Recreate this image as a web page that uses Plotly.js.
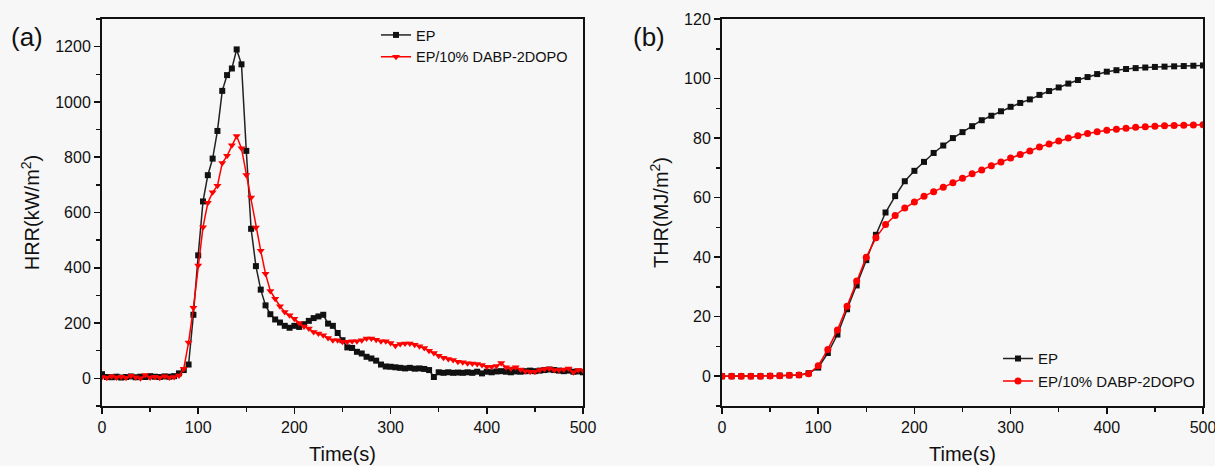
<!DOCTYPE html>
<html>
<head>
<meta charset="utf-8">
<script src="https://cdn.plot.ly/plotly-3.0.1.min.js"></script>
<style>html,body{margin:0;padding:0;background:#f7f7f7;}#chart{width:1215px;height:466px;}</style>
</head>
<body>
<div id="chart"></div>
<script>
// ---- HRR data (panel a), time step 5 s ----
const hrrTime = [0,5,10,15,20,25,30,35,40,45,50,55,60,65,70,75,80,85,90,95,
  100,105,110,115,120,125,130,135,140,145,150,155,160,165,170,175,180,185,190,195,
  200,205,210,215,220,225,230,235,240,245,250,255,260,265,270,275,280,285,290,295,
  300,305,310,315,320,325,330,335,340,345,350,355,360,365,370,375,380,385,390,395,
  400,405,410,415,420,425,430,435,440,445,450,455,460,465,470,475,480,485,490,495,500];
const hrrEP = [15,5,4,6,3,5,7,4,6,5,8,6,5,7,6,8,18,30,50,230,
  445,640,735,795,895,1040,1097,1121,1190,1136,823,541,406,321,264,232,213,202,190,183,
  190,186,196,208,218,224,230,198,190,164,138,112,110,96,90,78,72,64,50,43,
  42,40,38,36,38,35,36,34,30,5,22,20,22,20,21,20,22,20,24,18,
  24,22,25,26,24,22,25,24,26,28,26,28,30,32,30,28,26,28,24,25,22];
const hrrFR = [5,2,8,3,6,2,9,4,0,12,3,6,2,8,3,5,10,35,130,255,
  408,547,635,673,697,779,805,843,877,832,736,654,546,462,378,316,288,261,240,228,
  216,200,188,180,168,162,156,146,138,138,132,132,134,134,138,144,144,140,134,134,
  128,118,124,126,126,122,116,110,100,92,82,75,70,66,60,58,55,54,52,48,
  42,42,45,56,40,36,40,32,26,24,24,30,34,36,30,30,32,36,22,30,28];

// ---- THR data (panel b), time step 10 s ----
const thrTime = [0,10,20,30,40,50,60,70,80,90,100,110,120,130,140,150,160,170,180,190,
  200,210,220,230,240,250,260,270,280,290,300,310,320,330,340,350,360,370,380,390,
  400,410,420,430,440,450,460,470,480,490,500];
const thrEP = [0,0,0,0,0,0.1,0.2,0.3,0.4,1.0,2.9,7.8,14,22.5,30.5,39,47.5,55,60.5,65.5,
  69,72,75,77.5,80,82,84,86,87.5,89,90.5,91.8,93,94.5,95.8,97,98.3,99.5,100.5,101.5,
  102.3,102.8,103.2,103.5,103.7,103.9,104,104.1,104.2,104.3,104.4];
const thrFR = [0,0,0,0,0,0.1,0.2,0.3,0.4,0.8,3.5,9,15.5,23.5,32,40,46.5,51,54,56.5,
  58.5,60.5,62,63.5,65,66.5,68,69.3,70.7,72,73.3,74.5,75.7,77,78,79,80,80.8,81.5,82.1,
  82.6,83,83.3,83.6,83.8,84,84.1,84.2,84.3,84.4,84.5];

const seriesNames = ['EP', 'EP/10% DABP-2DOPO'];
const xTicks = [0,100,200,300,400,500];
const hrrTicks = [0,200,400,600,800,1000,1200];
const thrTicks = [0,20,40,60,80,100,120];

const FONT = 'Liberation Sans, Arial, sans-serif';
const BLACK = '#111111';
const RED = '#ff0000';

const traces = [
  {x: hrrTime, y: hrrEP, name: seriesNames[0], type: 'scatter', mode: 'lines+markers',
   line: {color: '#222222', width: 1.5}, marker: {symbol: 'square', size: 6, color: BLACK},
   xaxis: 'x', yaxis: 'y', legend: 'legend'},
  {x: hrrTime, y: hrrFR, name: seriesNames[1], type: 'scatter', mode: 'lines+markers',
   line: {color: RED, width: 1.5}, marker: {symbol: 'triangle-down', size: 7, color: RED},
   xaxis: 'x', yaxis: 'y', legend: 'legend'},
  {x: thrTime, y: thrEP, name: seriesNames[0], type: 'scatter', mode: 'lines+markers',
   line: {color: '#222222', width: 1.5}, marker: {symbol: 'square', size: 6, color: BLACK},
   xaxis: 'x2', yaxis: 'y2', legend: 'legend2'},
  {x: thrTime, y: thrFR, name: seriesNames[1], type: 'scatter', mode: 'lines+markers',
   line: {color: RED, width: 1.5}, marker: {symbol: 'circle', size: 7, color: RED},
   xaxis: 'x2', yaxis: 'y2', legend: 'legend2'}
];

function xAxis(domain, anchor) {
  return {
    domain: domain, anchor: anchor, range: [0, 500], tickvals: xTicks,
    showline: true, linecolor: BLACK, linewidth: 2, mirror: true,
    ticks: 'outside', ticklen: 6, tickwidth: 1.5, tickcolor: BLACK,
    minor: {dtick: 50, ticks: 'outside', ticklen: 4, tickwidth: 1.5, tickcolor: BLACK},
    showgrid: false, zeroline: false, ticklabeloverflow: 'allow',
    tickfont: {family: FONT, size: 16, color: '#111'},
    title: {text: 'Time(s)', font: {family: FONT, size: 20, color: '#111'}, standoff: 12}
  };
}
function yAxis(domain, anchor, range, ticks, minorStep, title) {
  return {
    domain: domain, anchor: anchor, range: range, tickvals: ticks,
    showline: true, linecolor: BLACK, linewidth: 2, mirror: true,
    ticks: 'outside', ticklen: 6, tickwidth: 1.5, tickcolor: BLACK,
    minor: {dtick: minorStep, ticks: 'outside', ticklen: 4, tickwidth: 1.5, tickcolor: BLACK},
    showgrid: false, zeroline: false,
    tickfont: {family: FONT, size: 16, color: '#111'},
    title: {text: title, font: {family: FONT, size: 20, color: '#111'}, standoff: 10}
  };
}

const layout = {
  width: 1215, height: 466,
  margin: {l: 0, r: 0, t: 19, b: 60},
  paper_bgcolor: '#f7f7f7', plot_bgcolor: '#f7f7f7',
  showlegend: true,
  xaxis: xAxis([102/1215, 583/1215], 'y'),
  yaxis: yAxis([0, 1], 'x', [-100, 1300], hrrTicks, 100, 'HRR(kW/m<sup>2</sup>)'),
  xaxis2: xAxis([722/1215, 1203/1215], 'y2'),
  yaxis2: yAxis([0, 1], 'x2', [-10, 120], thrTicks, 10, 'THR(MJ/m<sup>2</sup>)'),
  legend: {x: 376/1215, y: 1.0, xanchor: 'left', yanchor: 'top', bgcolor: 'rgba(0,0,0,0)',
    font: {family: FONT, size: 14.5, color: '#111'}, tracegroupgap: 0, itemwidth: 30},
  legend2: {x: 998/1215, y: 0.165, xanchor: 'left', yanchor: 'top', bgcolor: 'rgba(0,0,0,0)',
    font: {family: FONT, size: 15, color: '#111'}, tracegroupgap: 0, itemwidth: 30},
  annotations: [
    {text: '(a)', xref: 'paper', yref: 'paper', x: 27/1215, y: (406-37)/387, showarrow: false,
     xanchor: 'center', yanchor: 'middle', font: {family: FONT, size: 26, color: '#111'}},
    {text: '(b)', xref: 'paper', yref: 'paper', x: 649/1215, y: (406-37)/387, showarrow: false,
     xanchor: 'center', yanchor: 'middle', font: {family: FONT, size: 26, color: '#111'}}
  ]
};

Plotly.newPlot('chart', traces, layout, {displayModeBar: false, staticPlot: true});
</script>
</body>
</html>
